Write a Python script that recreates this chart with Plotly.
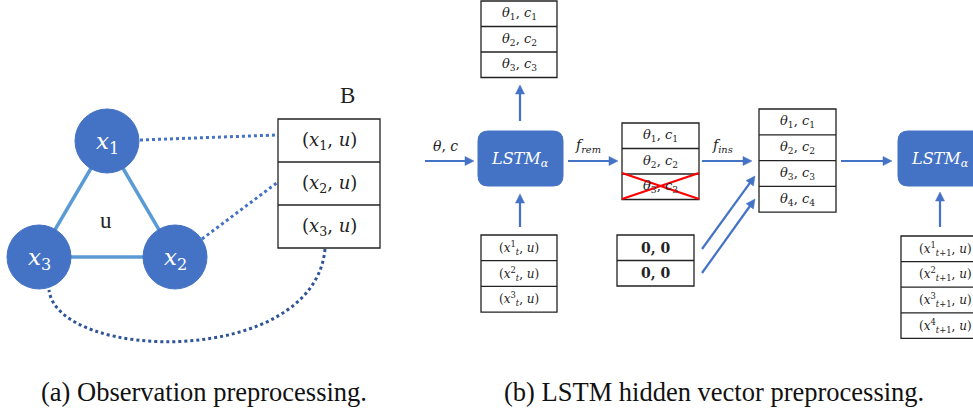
import math
import plotly.graph_objects as go

# ---------------- data (labels of the diagram) ----------------
node_labels = ["<i>x</i><sub>1</sub>", "<i>x</i><sub>2</sub>", "<i>x</i><sub>3</sub>"]
buffer_rows = ["(<i>x</i><sub>1</sub>, <i>u</i>)", "(<i>x</i><sub>2</sub>, <i>u</i>)", "(<i>x</i><sub>3</sub>, <i>u</i>)"]
hidden_out = ["<i>θ</i><sub>1</sub>, <i>c</i><sub>1</sub>", "<i>θ</i><sub>2</sub>, <i>c</i><sub>2</sub>", "<i>θ</i><sub>3</sub>, <i>c</i><sub>3</sub>"]
inputs_t = ["(<i>x</i><sup>1</sup><sub><i>t</i></sub>, <i>u</i>)", "(<i>x</i><sup>2</sup><sub><i>t</i></sub>, <i>u</i>)", "(<i>x</i><sup>3</sup><sub><i>t</i></sub>, <i>u</i>)"]
hidden_rem = ["<i>θ</i><sub>1</sub>, <i>c</i><sub>1</sub>", "<i>θ</i><sub>2</sub>, <i>c</i><sub>2</sub>", "<i>θ</i><sub>3</sub>, <i>c</i><sub>3</sub>"]
zero_rows = ["<b>0, 0</b>", "<b>0, 0</b>"]
hidden_ins = ["<i>θ</i><sub>1</sub>, <i>c</i><sub>1</sub>", "<i>θ</i><sub>2</sub>, <i>c</i><sub>2</sub>", "<i>θ</i><sub>3</sub>, <i>c</i><sub>3</sub>", "<i>θ</i><sub>4</sub>, <i>c</i><sub>4</sub>"]
inputs_t1 = ["(<i>x</i><sup>1</sup><sub><i>t</i>+1</sub>, <i>u</i>)", "(<i>x</i><sup>2</sup><sub><i>t</i>+1</sub>, <i>u</i>)", "(<i>x</i><sup>3</sup><sub><i>t</i>+1</sub>, <i>u</i>)", "(<i>x</i><sup>4</sup><sub><i>t</i>+1</sub>, <i>u</i>)"]
lstm_label = "<i>LSTM</i><sub><i>α</i></sub>"
captions = ["(a) Observation preprocessing.", "(b) LSTM hidden vector preprocessing."]

BLUE = "#4472C4"
LIGHT = "#5B9BD5"
DARK = "#2F5597"
MATH = "DejaVu Serif"
SERIF = "Liberation Serif"

fig = go.Figure()
shapes = []
anns = []


def table(x0, x1, y0, rowh, labels, size):
    n = len(labels)
    shapes.append(dict(type="rect", x0=x0, x1=x1, y0=y0, y1=y0 + n * rowh,
                       line=dict(color="#222", width=1.3), fillcolor="white", layer="above"))
    for i in range(1, n):
        yy = y0 + i * rowh
        shapes.append(dict(type="line", x0=x0, x1=x1, y0=yy, y1=yy,
                           line=dict(color="#222", width=1.3), layer="above"))
    for i, lab in enumerate(labels):
        anns.append(dict(x=(x0 + x1) / 2, y=y0 + (i + 0.5) * rowh, text=lab, showarrow=False,
                         font=dict(family=MATH, size=size, color="#222"),
                         xanchor="center", yanchor="middle"))


def arrow(xt, yt, xh, yh, head=9, half=4.5):
    dx, dy = xh - xt, yh - yt
    L = math.hypot(dx, dy)
    ux, uy = dx / L, dy / L
    bx, by = xh - ux * head, yh - uy * head
    px, py = -uy, ux
    shapes.append(dict(type="line", x0=xt, y0=yt, x1=bx + ux, y1=by + uy,
                       line=dict(color=BLUE, width=2.2)))
    p = (f"M {xh:.1f},{yh:.1f} L {bx + px * half:.1f},{by + py * half:.1f} "
         f"L {bx - px * half:.1f},{by - py * half:.1f} Z")
    shapes.append(dict(type="path", path=p, fillcolor=BLUE, line=dict(color=BLUE, width=0.5)))


def label(x, y, text, size, color="#222", family=MATH):
    anns.append(dict(x=x, y=y, text=text, showarrow=False,
                     font=dict(family=family, size=size, color=color),
                     xanchor="center", yanchor="middle"))


def rounded(x0, x1, y0, y1, r):
    p = (f"M {x0+r},{y0} L {x1-r},{y0} Q {x1},{y0} {x1},{y0+r} L {x1},{y1-r} "
         f"Q {x1},{y1} {x1-r},{y1} L {x0+r},{y1} Q {x0},{y1} {x0},{y1-r} "
         f"L {x0},{y0+r} Q {x0},{y0} {x0+r},{y0} Z")
    shapes.append(dict(type="path", path=p, fillcolor=BLUE, line=dict(color=BLUE, width=1)))


# ---------------- (a) observation graph ----------------
centers = [(107, 141), (175, 257), (39, 257)]
R = 32
for (a, b) in [(0, 1), (1, 2), (2, 0)]:
    shapes.append(dict(type="line", x0=centers[a][0], y0=centers[a][1], x1=centers[b][0], y1=centers[b][1],
                       line=dict(color=LIGHT, width=3.5), layer="below"))
# dotted links to the buffer
shapes.append(dict(type="line", x0=140, y0=140, x1=277, y1=135, line=dict(color=BLUE, width=3, dash="3px,3px")))
shapes.append(dict(type="line", x0=202, y0=239, x1=278, y1=182, line=dict(color=BLUE, width=3, dash="3px,3px")))
shapes.append(dict(type="path", path="M 325,249 C 314,368 58,362 49,290",
                   line=dict(color=DARK, width=3, dash="3px,3px")))
for (cx, cy), lab in zip(centers, node_labels):
    shapes.append(dict(type="circle", x0=cx - R, x1=cx + R, y0=cy - R, y1=cy + R,
                       fillcolor=BLUE, line=dict(color=BLUE, width=1), layer="above"))
    label(cx, cy + 2, lab, 23, "white")
label(106, 220, "u", 23, "#222", SERIF)
label(347, 95, "B", 23, "#222", SERIF)
table(278, 380, 119, 43, buffer_rows, 18)

# ---------------- (b) LSTM hidden vector preprocessing ----------------
rounded(478, 563, 131, 186, 10)
label(520, 159, lstm_label, 16, "white")
table(481, 557, 1, 25.5, hidden_out, 13)
arrow(520, 121, 520, 85)
table(481, 557, 235, 25.7, inputs_t, 12)
arrow(520, 227, 520, 194)
arrow(425, 161, 474, 161)
label(445, 146, "<i>θ</i>, <i>c</i>", 14)
arrow(568, 161, 618, 161)
label(588, 146, "<i>f</i><sub><i>rem</i></sub>", 14)
table(622, 699, 123, 25.5, hidden_rem, 13)
shapes.append(dict(type="line", x0=622, y0=173, x1=699, y1=199, line=dict(color="red", width=2.2), layer="above"))
shapes.append(dict(type="line", x0=622, y0=199, x1=699, y1=173, line=dict(color="red", width=2.2), layer="above"))
table(617, 694, 235, 25.5, zero_rows, 14)
arrow(702, 161, 752, 161)
label(722, 146, "<i>f</i><sub><i>ins</i></sub>", 14)
arrow(702, 249, 755, 176)
arrow(702, 273, 755, 199)
table(759, 836, 109, 25.8, hidden_ins, 13)
arrow(841, 161, 892, 161)
rounded(898, 1000, 131, 186, 10)
label(940, 159, lstm_label, 16, "white")
arrow(940, 227, 940, 192)
table(901, 990, 236, 25.6, inputs_t1, 12)

# captions
label(204, 392, captions[0], 26.5, "#111", SERIF)
label(714, 392, captions[1], 26.5, "#111", SERIF)

fig.update_layout(
    width=973, height=413, autosize=False,
    margin=dict(l=0, r=0, t=0, b=0),
    paper_bgcolor="white", plot_bgcolor="white",
    xaxis=dict(range=[0, 973], visible=False, fixedrange=True),
    yaxis=dict(range=[413, 0], visible=False, fixedrange=True),
    shapes=shapes, annotations=anns, showlegend=False,
)
fig.write_html("out.html", config={"displayModeBar": False},
               post_script="document.body.style.margin='0';")
